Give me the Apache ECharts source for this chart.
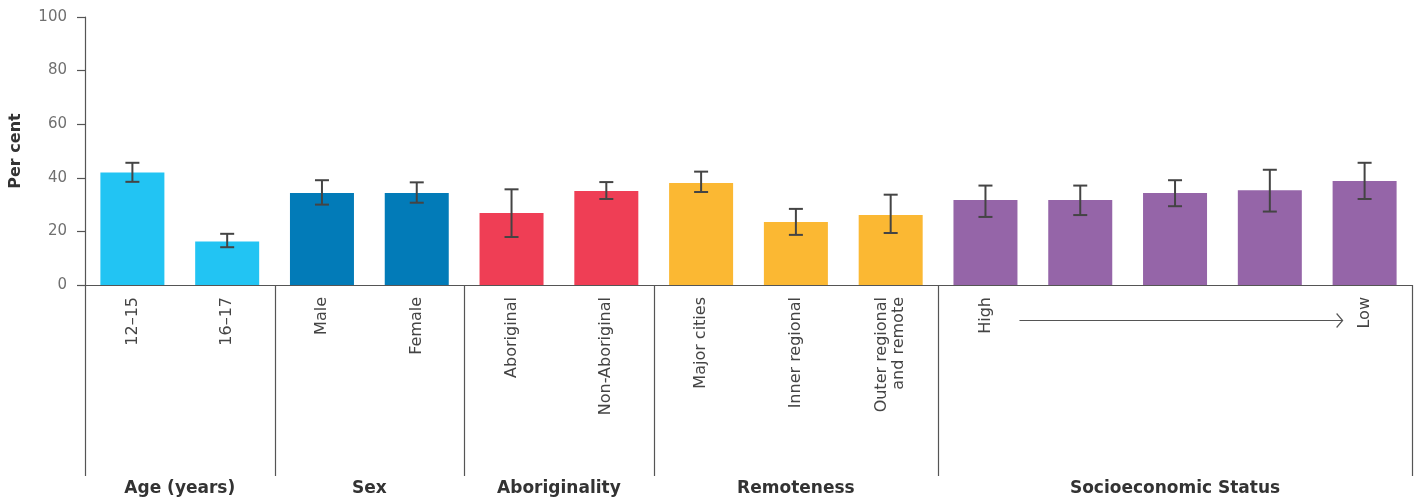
<!DOCTYPE html>
<html><head><meta charset="utf-8">
<script src="https://cdn.jsdelivr.net/npm/echarts@6/dist/echarts.min.js"></script>
<style>html,body{margin:0;padding:0;background:#fff}#c{width:1418px;height:502px}</style>
</head><body><div id="c"></div>
<script>
const categories = ['12–15','16–17','Male','Female','Aboriginal','Non-Aboriginal','Major cities','Inner regional','Outer regional\nand remote','SES1','SES2','SES3','SES4','SES5'];
const categoryLabels = ['12–15','16–17','Male','Female','Aboriginal','Non-Aboriginal','Major cities','Inner regional','Outer regional\nand remote','High','','','','Low'];
const values = [42.0,16.2,34.3,34.3,26.9,35.1,38.1,23.5,26.1,31.7,31.7,34.3,35.4,38.8];
const ciLow  = [38.5,14.1,30.0,30.7,17.9,32.1,34.7,18.7,19.4,25.4,26.1,29.4,27.4,32.1];
const ciHigh = [45.6,19.1,39.1,38.3,35.7,38.4,42.3,28.4,33.7,37.1,37.1,39.1,43.0,45.6];
const groupNames = ['Age (years)','Sex','Aboriginality','Remoteness','Socioeconomic Status'];
const groupSizes = [2,2,2,3,5];
const groupColors = ['#22C4F3','#027BB8','#EF3E55','#FBB833','#9565A8'];
const yMin = 0, yMax = 100, yInterval = 20;

const FONT = 'DejaVu Sans';
const groupOf = [];
groupSizes.forEach((n,g)=>{for(let i=0;i<n;i++) groupOf.push(g);});

const chart = echarts.init(document.getElementById('c'), null, {renderer:'canvas'});
const option = {
  animation:false,
  backgroundColor:'#fff',
  grid:{left:83,right:6,top:17,bottom:217,containLabel:false},
  xAxis:{
    type:'category', data:categories,
    axisLine:{show:true,lineStyle:{color:'#555',width:1.2}},
    axisTick:{show:false},
    axisLabel:{rotate:90,interval:0,margin:12,color:'#444',fontFamily:FONT,fontSize:16,lineHeight:17,
      formatter:(v,i)=>categoryLabels[i]}
  },
  yAxis:{
    type:'value', min:yMin, max:yMax, interval:yInterval,
    name:'Per cent', nameLocation:'middle', nameGap:61, nameRotate:90,
    nameTextStyle:{color:'#333',fontFamily:FONT,fontSize:16,fontWeight:'bold'},
    axisLine:{show:true,lineStyle:{color:'#555',width:1.2}},
    axisTick:{show:true,length:8,lineStyle:{color:'#555',width:1.2}},
    axisLabel:{color:'#707070',fontFamily:FONT,fontSize:15,margin:18},
    splitLine:{show:false}
  },
  series:[
    {type:'bar', barWidth:64,
     data:values.map((v,i)=>({value:v,itemStyle:{color:groupColors[groupOf[i]]}}))},
    {type:'custom', z:5,
     data:values.map((v,i)=>[i,ciLow[i],ciHigh[i]]),
     renderItem:(params,api)=>{
       const x = api.value(0);
       const lo = api.coord([x, api.value(1)]);
       const hi = api.coord([x, api.value(2)]);
       const w = 7;
       const st = {stroke:'#444',lineWidth:2};
       return {type:'group',children:[
         {type:'line',shape:{x1:lo[0],y1:hi[1],x2:lo[0],y2:lo[1]},style:st},
         {type:'line',shape:{x1:lo[0]-w,y1:hi[1],x2:lo[0]+w,y2:hi[1]},style:st},
         {type:'line',shape:{x1:lo[0]-w,y1:lo[1],x2:lo[0]+w,y2:lo[1]},style:st}
       ]};
     }}
  ]
};
chart.setOption(option);

// group separators, titles and SES arrow
const cx = i => chart.convertToPixel({xAxisIndex:0}, i);
const band = cx(1) - cx(0);
const y0 = chart.convertToPixel({yAxisIndex:0}, 0);
const sepBottom = y0 + 191;
const gfx = [];
let start = 0;
const bounds = [cx(0) - band/2];
groupSizes.forEach(n=>{ start += n; bounds.push(cx(start-1) + band/2); });
bounds.forEach(b=>{
  gfx.push({type:'line',shape:{x1:Math.round(b)+0.5,y1:y0,x2:Math.round(b)+0.5,y2:sepBottom},style:{stroke:'#555',lineWidth:1.2},silent:true});
});
groupNames.forEach((g,k)=>{
  gfx.push({type:'text',x:(bounds[k]+bounds[k+1])/2,y:y0+204,
    style:{text:g,fill:'#333',font:'bold 17px "'+FONT+'"',align:'center',verticalAlign:'middle'},silent:true});
});
// arrow from High to Low
const sesStart = groupSizes.slice(0,4).reduce((a,b)=>a+b,0);
const sesEnd = sesStart + groupSizes[4] - 1;
const ax1 = cx(sesStart) + 34, ax2 = cx(sesEnd) - 22, ay = y0 + 35.5;
gfx.push({type:'line',shape:{x1:ax1,y1:ay,x2:ax2,y2:ay},style:{stroke:'#555',lineWidth:1.2},silent:true});
gfx.push({type:'polyline',shape:{points:[[ax2-6,ay-7],[ax2,ay],[ax2-6,ay+7]]},style:{stroke:'#555',lineWidth:1.2,fill:null},silent:true});
chart.setOption({graphic:gfx});
</script>
</body></html>
